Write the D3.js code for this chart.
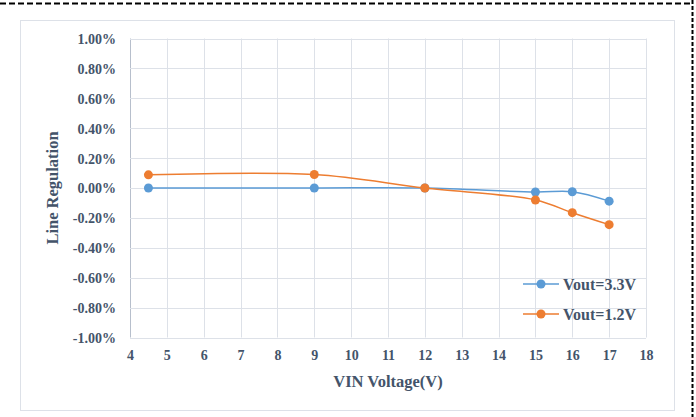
<!DOCTYPE html>
<html>
<head>
<meta charset="utf-8">
<script src="https://cdn.jsdelivr.net/npm/d3@7"></script>
<style>
html,body{margin:0;padding:0;background:#fff;}
svg{display:block;}
</style>
</head>
<body>
<svg id="chart" width="696" height="417"></svg>
<script>
const vin = [4.5, 9, 12, 15, 16, 17];
const vout33 = [0.000, 0.000, 0.000, -0.027, -0.025, -0.088];
const vout12 = [0.088, 0.090, 0.000, -0.080, -0.165, -0.245];
const seriesNames = ["Vout=3.3V", "Vout=1.2V"];
const seriesColors = ["#5b9bd5", "#ed7d31"];
const xTicks = d3.range(4, 19, 1);
const yTicks = d3.range(-1.0, 1.0001, 0.2).map(v => Math.round(v * 100) / 100);

const svg = d3.select("#chart");
const textColor = "#44546a";
const gridColor = "#dde1e8";
const font = "'Liberation Serif','Times New Roman',serif";

// outer decorations
svg.append("line").attr("x1", 0).attr("x2", 692).attr("y1", 3.5).attr("y2", 3.5)
  .attr("stroke", "#000").attr("stroke-width", 2).attr("stroke-dasharray", "6,3");
svg.append("line").attr("x1", 692.5).attr("x2", 692.5).attr("y1", 0).attr("y2", 417)
  .attr("stroke", "#000").attr("stroke-width", 2).attr("stroke-dasharray", "4,2");

// chart area border
svg.append("rect").attr("x", 20.5).attr("y", 20.5).attr("width", 654).attr("height", 390)
  .attr("fill", "#fff").attr("stroke", "#dde1e8").attr("stroke-width", 1);

const x = d3.scaleLinear().domain([4, 18]).range([130, 646]);
const y = d3.scaleLinear().domain([-1, 1]).range([337.5, 38.5]);

// grid
const g = svg.append("g");
g.selectAll(".vg").data(xTicks).enter().append("line")
  .attr("x1", d => Math.round(x(d)) + 0.5).attr("x2", d => Math.round(x(d)) + 0.5)
  .attr("y1", y(1)).attr("y2", y(-1))
  .attr("stroke", d => d === 4 ? "#b7bfcc" : gridColor).attr("stroke-width", 1);
g.selectAll(".hg").data(yTicks).enter().append("line")
  .attr("x1", x(4)).attr("x2", x(18))
  .attr("y1", d => Math.round(y(d)) + 0.5).attr("y2", d => Math.round(y(d)) + 0.5)
  .attr("stroke", gridColor).attr("stroke-width", 1);

const yAxis = d3.axisLeft(y).tickValues(yTicks).tickSize(0).tickPadding(0)
  .tickFormat(d => d.toFixed(2) + "%");
const ya = svg.append("g").attr("transform", "translate(116,0)").call(yAxis);
ya.select(".domain").remove();
ya.selectAll("text").attr("font-family", font).attr("font-weight", "bold")
  .attr("font-size", 14).attr("fill", textColor).attr("dy", "0.35em");

const xAxis = d3.axisBottom(x).tickValues(xTicks).tickSize(0).tickPadding(0)
  .tickFormat(d3.format("d"));
const xa = svg.append("g").attr("transform", "translate(0,350)").call(xAxis);
xa.select(".domain").remove();
xa.selectAll("text").attr("font-family", font).attr("font-weight", "bold")
  .attr("font-size", 14).attr("fill", textColor).attr("dy", "0.71em");

// axis titles
svg.append("text").attr("x", 388).attr("y", 387).attr("text-anchor", "middle")
  .attr("font-family", font).attr("font-weight", "bold").attr("font-size", 16.5)
  .attr("fill", textColor).text("VIN Voltage(V)");
svg.append("text").attr("transform", "translate(58,188) rotate(-90)").attr("text-anchor", "middle")
  .attr("font-family", font).attr("font-weight", "bold").attr("font-size", 16.5)
  .attr("fill", textColor).text("Line Regulation");

// series
const allSeries = [vout33, vout12];
const line = d3.line().x(d => x(d[0])).y(d => y(d[1])).curve(d3.curveCatmullRom.alpha(0.5));
allSeries.forEach((vals, i) => {
  const pts = vin.map((v, j) => [v, vals[j]]);
  svg.append("path").datum(pts).attr("d", line).attr("fill", "none")
    .attr("stroke", seriesColors[i]).attr("stroke-width", 1.5);
  svg.selectAll(".m" + i).data(pts).enter().append("circle")
    .attr("cx", d => x(d[0])).attr("cy", d => y(d[1])).attr("r", 4.5)
    .attr("fill", seriesColors[i]);
});

// legend
const legY = [284, 314];
seriesNames.forEach((name, i) => {
  const lg = svg.append("g");
  lg.append("line").attr("x1", 523).attr("x2", 559).attr("y1", legY[i]).attr("y2", legY[i])
    .attr("stroke", seriesColors[i]).attr("stroke-width", 1.5);
  lg.append("circle").attr("cx", 541).attr("cy", legY[i]).attr("r", 4.5).attr("fill", seriesColors[i]);
  lg.append("text").attr("x", 563).attr("y", legY[i]).attr("dy", "0.35em")
    .attr("font-family", font).attr("font-weight", "bold").attr("font-size", 16)
    .attr("fill", textColor).text(name);
});
</script>
</body>
</html>
